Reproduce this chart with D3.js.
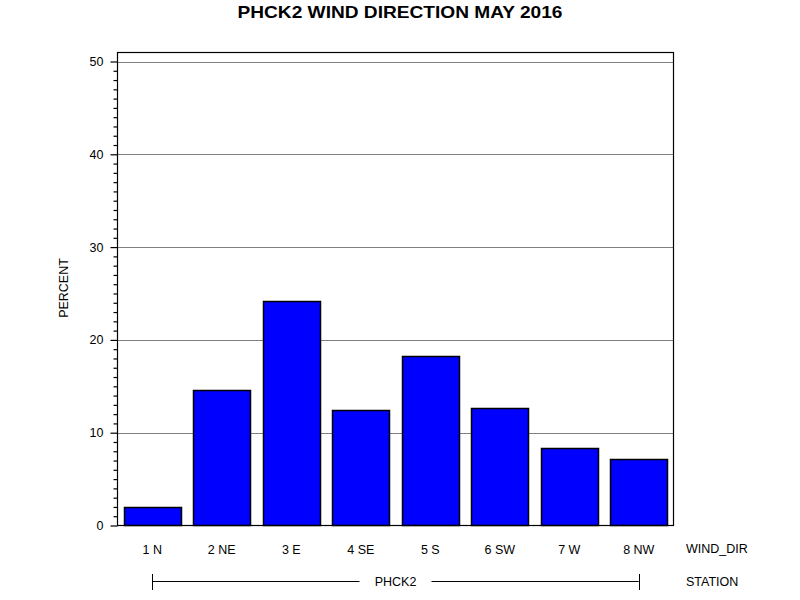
<!DOCTYPE html>
<html><head><meta charset="utf-8">
<script src="https://cdn.jsdelivr.net/npm/d3@7"></script>
<style>body{margin:0;background:#fff}svg{display:block}text{font-family:"Liberation Sans",Arial,sans-serif}</style>
</head><body><svg id="c" width="800" height="600"></svg>
<script>
const categories = ["1 N","2 NE","3 E","4 SE","5 S","6 SW","7 W","8 NW"];
const percent = [2.0, 14.6, 24.2, 12.5, 18.3, 12.7, 8.4, 7.2];
const yTicks = [0,10,20,30,40,50];
const titleText = "PHCK2 WIND DIRECTION MAY 2016";
const stationName = "PHCK2";

const svg = d3.select("#c");
const L=117.5, R=673.5, T=52.5, B=525.5;
const x = d3.scaleBand().domain(categories).range([L,R]).paddingInner(0.187).paddingOuter(0.0935);
const y = d3.scaleLinear().domain([0,50]).range([B,61.5]);

svg.append("rect").attr("width",800).attr("height",600).attr("fill","#fff");
svg.append("text").attr("x",400).attr("y",18).attr("text-anchor","middle")
  .attr("font-size",16.5).attr("font-weight","bold").attr("font-family","'DejaVu Sans',Verdana,sans-serif")
  .attr("textLength",325).attr("lengthAdjust","spacingAndGlyphs").text(titleText);

// gridlines
svg.append("g").selectAll("line").data(yTicks.filter(d=>d>0)).join("line")
  .attr("x1",L).attr("x2",R).attr("y1",d=>Math.round(y(d))+0.5).attr("y2",d=>Math.round(y(d))+0.5)
  .attr("stroke","#808080").attr("stroke-width",1);

// bars
svg.append("g").selectAll("rect").data(categories).join("rect")
  .attr("x",d=>Math.round(x(d))+0.5)
  .attr("y",(d,i)=>Math.round(y(percent[i]))+0.5)
  .attr("width",Math.round(x.bandwidth()))
  .attr("height",(d,i)=>B-Math.round(y(percent[i]))-0.5)
  .attr("fill","#0000ff").attr("stroke","#000").attr("stroke-width",1.5);

// frame
svg.append("rect").attr("x",L).attr("y",T).attr("width",R-L).attr("height",B-T)
  .attr("fill","none").attr("stroke","#000").attr("stroke-width",1.2);

// y axis
const yAxis = d3.axisLeft(y).tickValues(yTicks).tickSize(7).tickFormat(d3.format("d"));
const ga = svg.append("g").attr("transform",`translate(${L},0)`).call(yAxis);
ga.select(".domain").remove();
ga.selectAll("text").attr("font-size",12.5).attr("fill","#000").attr("font-family","'Liberation Sans',Arial,sans-serif").attr("x",-14);
ga.selectAll("line").attr("stroke","#000").attr("stroke-width",1.2);
const minor = d3.range(0,51).filter(d=>d%10!==0);
const ym = d3.axisLeft(y).tickValues(minor).tickSize(4).tickFormat("");
const gm = svg.append("g").attr("transform",`translate(${L},0)`).call(ym);
gm.select(".domain").remove();
gm.selectAll("line").attr("stroke","#000").attr("stroke-width",1.2);

svg.append("text").attr("transform","translate(68,288) rotate(-90)").attr("text-anchor","middle")
  .attr("font-size",12.5).text("PERCENT");

// x labels
const xAxis = d3.axisBottom(x).tickSize(0).tickPadding(0);
const gx = svg.append("g").attr("transform",`translate(0,${B+28})`).call(xAxis);
gx.select(".domain").remove();
gx.selectAll("text").attr("font-size",12.5).attr("fill","#000").attr("font-family","'Liberation Sans',Arial,sans-serif").attr("dy","0");
svg.append("text").attr("x",686).attr("y",553).attr("font-size",12.5).text("WIND_DIR");

// station bracket
const x1 = x(categories[0])+x.bandwidth()/2, x2 = x(categories[categories.length-1])+x.bandwidth()/2;
const sy = 581.5;
const mid = (x1+x2)/2;
svg.append("line").attr("x1",x1).attr("x2",mid-36).attr("y1",sy).attr("y2",sy).attr("stroke","#000");
svg.append("line").attr("x1",mid+36).attr("x2",x2).attr("y1",sy).attr("y2",sy).attr("stroke","#000");
[x1,x2].forEach(v=>svg.append("line").attr("x1",Math.round(v)+0.5).attr("x2",Math.round(v)+0.5).attr("y1",574).attr("y2",590).attr("stroke","#000"));
svg.append("text").attr("x",mid).attr("y",586).attr("text-anchor","middle").attr("font-size",12.5).text(stationName);
svg.append("text").attr("x",686).attr("y",586).attr("font-size",12.5).text("STATION");
</script></body></html>
